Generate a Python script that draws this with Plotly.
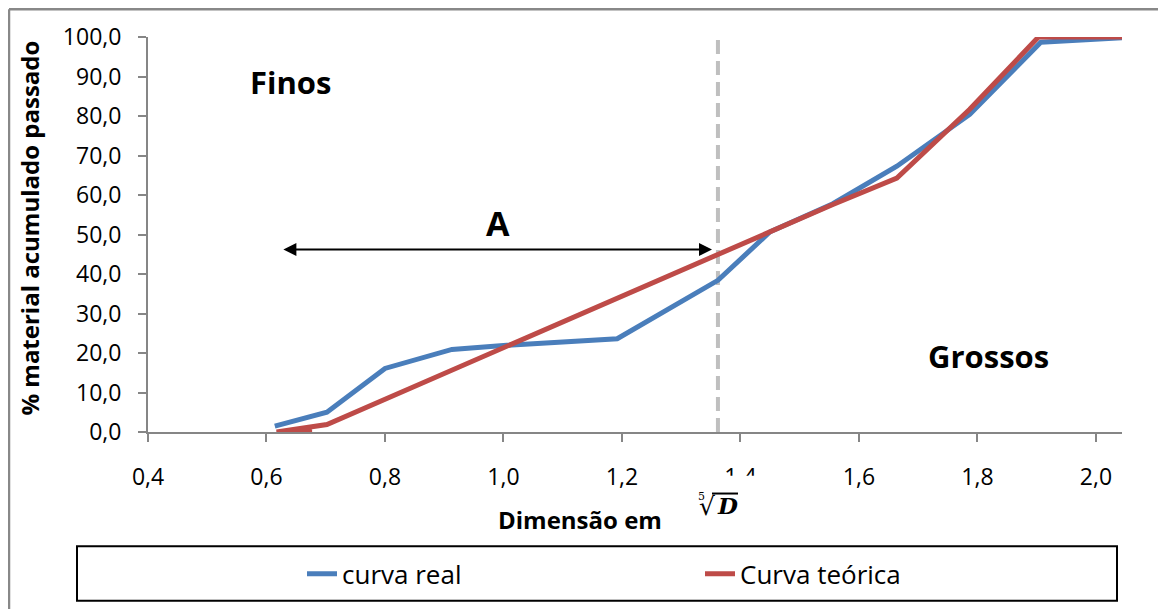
import plotly.graph_objects as go

# x = quinta raiz da dimensão do peneiro, y = % acumulado passado
x_real = [0.614, 0.702, 0.800, 0.913, 1.000, 1.192, 1.362, 1.450, 1.556, 1.664, 1.787, 1.907, 2.044]
y_real = [1.5, 5.0, 16.1, 20.9, 21.9, 23.6, 38.4, 50.7, 57.8, 67.3, 80.4, 98.7, 99.8]

x_teor = [0.677, 0.617, 0.702, 0.800, 0.913, 1.000, 1.192, 1.362, 1.450, 1.556, 1.664, 1.787, 1.903, 2.044]
y_teor = [0.0, 0.0, 1.9, 8.3, 15.6, 21.3, 33.7, 44.7, 50.7, 57.6, 64.3, 81.7, 100.0, 100.0]

x_limite = 1.362           # separação finos / grossos
seta_y = 46.2
seta_x = [0.626, 1.352]

BLUE = "#4A7EBB"
RED = "#BE4B48"
AXIS = "#868686"
FONT = "Open Sans"

# the page body adds an 8px offset, so plot area pixels are given in page coords
L, T, W, H = 148, 37, 974, 398


def px(x):
    return (x - L) / W


def py(y):
    return (T + H - y) / H


fig = go.Figure()
fig.add_trace(go.Scatter(x=x_real, y=y_real, mode="lines", name="curva real",
                         line=dict(color=BLUE, width=5)))
fig.add_trace(go.Scatter(x=x_teor, y=y_teor, mode="lines", name="Curva teórica",
                         line=dict(color=RED, width=5)))

# linha tracejada vertical
fig.add_shape(type="line", xref="x", yref="y", x0=x_limite, x1=x_limite, y0=0, y1=100,
              line=dict(color="#BFBFBF", width=4, dash="14px,7px"), layer="below")

# seta dupla "A"
fig.add_annotation(x=seta_x[1], y=seta_y, ax=seta_x[0], ay=seta_y, xref="x", yref="y",
                   axref="x", ayref="y", text="", showarrow=True, arrowhead=2,
                   arrowside="end+start", arrowsize=1.3, arrowwidth=2, arrowcolor="black")
fig.add_annotation(x=0.991, y=53.0, xref="x", yref="y", text="<b>A</b>", showarrow=False,
                   font=dict(family=FONT, size=34, color="black"))
fig.add_annotation(x=0.64, y=88.7, xref="x", yref="y", text="<b>Finos</b>", showarrow=False,
                   font=dict(family=FONT, size=31, color="black"))
fig.add_annotation(x=1.818, y=19.3, xref="x", yref="y", text="<b>Grossos</b>", showarrow=False,
                   font=dict(family=FONT, size=31, color="black"))

# títulos dos eixos
fig.add_annotation(x=px(580), y=py(523), xref="paper", yref="paper",
                   xanchor="center", yanchor="middle",
                   text="<b>Dimensão em</b>", showarrow=False,
                   font=dict(family=FONT, size=24, color="black"))
fig.add_annotation(x=px(30), y=py(230), xref="paper", yref="paper",
                   xanchor="center", yanchor="middle",
                   text="<b>% material acumulado passado</b>", showarrow=False, textangle=-90,
                   font=dict(family=FONT, size=24, color="black"))

# raiz quinta de D (fundo branco que tapa parte do "1,4")
fig.add_shape(type="rect", xref="paper", yref="paper",
              x0=px(693), x1=px(768), y0=py(528), y1=py(479),
              line=dict(width=0), fillcolor="white", layer="above")
fig.add_annotation(x=px(701), y=py(500), xref="paper", yref="paper",
                   xanchor="center", yanchor="middle", text="5", showarrow=False,
                   font=dict(family="DejaVu Serif", size=11, color="black"))
fig.add_annotation(x=px(707), y=py(510), xref="paper", yref="paper",
                   xanchor="center", yanchor="middle", text="√", showarrow=False,
                   font=dict(family="DejaVu Serif", size=25, color="black"))
fig.add_annotation(x=px(727), y=py(509), xref="paper", yref="paper",
                   xanchor="center", yanchor="middle", text="<b><i>D</i></b>", showarrow=False,
                   font=dict(family="DejaVu Serif", size=23, color="black"))
fig.add_shape(type="line", xref="paper", yref="paper",
              x0=px(712), x1=px(738), y0=py(497), y1=py(497),
              line=dict(color="black", width=2), layer="above")

# caixa da legenda e moldura
fig.add_shape(type="rect", xref="paper", yref="paper",
              x0=px(77), x1=px(1117), y0=py(605), y1=py(550),
              line=dict(color="black", width=2), fillcolor="rgba(0,0,0,0)")
fig.add_shape(type="line", xref="paper", yref="paper",
              x0=px(9), x1=px(1170), y0=py(9), y1=py(9),
              line=dict(color="#888888", width=2.5))
fig.add_shape(type="line", xref="paper", yref="paper",
              x0=px(9), x1=px(9), y0=py(9), y1=py(615),
              line=dict(color="#888888", width=2.5))

fig.update_layout(
    width=1158, height=601,
    margin=dict(l=L - 8, r=1166 - (L + W), t=T - 8, b=609 - (T + H)),
    paper_bgcolor="white", plot_bgcolor="white",
    font=dict(family=FONT, size=23, color="black"),
    separators=",.",
    showlegend=True,
    legend=dict(orientation="h", x=px(302), xanchor="left",
                y=py(578), yanchor="middle",
                entrywidth=353, entrywidthmode="pixels",
                font=dict(family=FONT, size=26, color="black"),
                bgcolor="rgba(0,0,0,0)"),
    xaxis=dict(range=[0.4, 2.044], dtick=0.2, tick0=0.4, tickformat=".1f",
               showgrid=False, zeroline=False, showline=True, linecolor=AXIS, linewidth=2,
               ticks="outside", ticklen=8, tickcolor=AXIS, tickwidth=2,
               ticklabelstandoff=15),
    yaxis=dict(range=[0, 100], dtick=10, tickformat=".1f",
               showgrid=False, zeroline=False, showline=True, linecolor=AXIS, linewidth=2,
               ticks="outside", ticklen=8, tickcolor=AXIS, tickwidth=2,
               ticklabelstandoff=12),
)

fig.write_html("out.html")
